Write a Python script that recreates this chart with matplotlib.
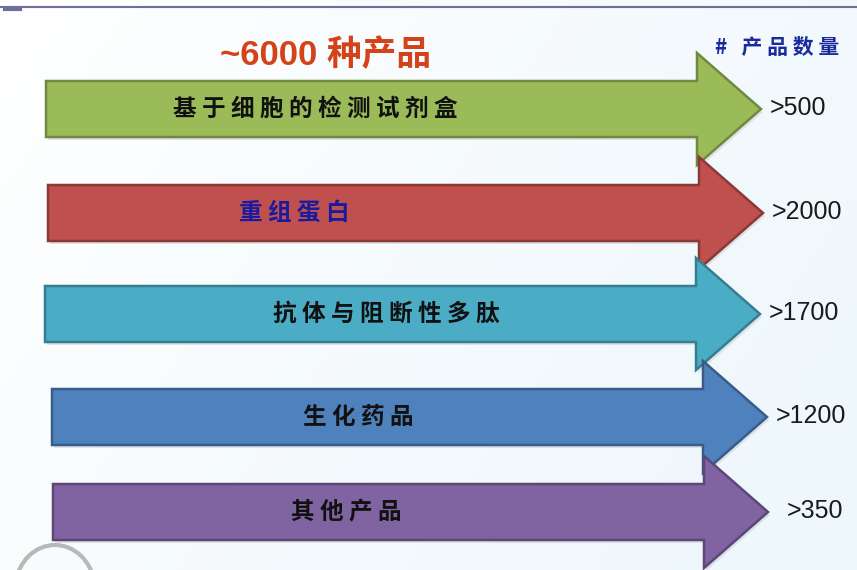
import numpy as np
import matplotlib
matplotlib.use("Agg")
import matplotlib.pyplot as plt
from matplotlib.patches import FancyArrow, Arc
from matplotlib.colors import LinearSegmentedColormap

plt.rcParams['font.family'] = ['Noto Sans CJK SC', 'DejaVu Sans']

# data
categories = ["基于细胞的检测试剂盒", "重组蛋白", "抗体与阻断性多肽", "生化药品", "其他产品"]
counts = [">500", ">2000", ">1700", ">1200", ">350"]
title = "~6000 种产品"
count_header = "# 产品数量"

# styles / layout
fills = ["#9BBB59", "#C0504D", "#4BACC6", "#4F81BD", "#8064A2"]
edges = ["#71893F", "#8C3836", "#357D91", "#385D8A", "#5C4776"]
label_colors = ["#111111", "#1A1AA0", "#111111", "#111111", "#111111"]
label_x = [315, 294, 386, 358, 346]
row_y = [109, 213, 314, 417, 512]
row_shift = [0, 2, -1, 6, 7]

W, H = 857, 570
fig = plt.figure(figsize=(W / 100, H / 100), dpi=100)
ax = fig.add_axes([0, 0, 1, 1])
ax.set_xlim(0, W)
ax.set_ylim(H, 0)
ax.axis("off")

# soft background gradient
gx, gy = np.meshgrid(np.linspace(0, 1, 200), np.linspace(0, 1, 200))
grad = np.clip(0.75 * gx + 0.35 * gy, 0, 1)
cmap = LinearSegmentedColormap.from_list("bg", ["#FFFFFF", "#EEF7FC"])
ax.imshow(grad, cmap=cmap, extent=(0, W, H, 0), aspect="auto", zorder=0)

# top rule
ax.plot([0, W], [7, 7], color="#6E6E9E", lw=1.5, zorder=1)
ax.plot([5, 20], [9, 9], color="#6E6E9E", lw=3, zorder=1)

# arrows
for i, cat in enumerate(categories):
    y = row_y[i]
    x0 = 46 + row_shift[i]
    length = 715
    shadow = FancyArrow(x0 + 2, y + 3, length, 0, width=56, head_width=112,
                        head_length=64, length_includes_head=True,
                        fc="#C8CCD2", ec="none", alpha=0.5, zorder=2 + i)
    ax.add_patch(shadow)
    arr = FancyArrow(x0, y, length, 0, width=56, head_width=112,
                     head_length=64, length_includes_head=True,
                     fc=fills[i], ec=edges[i], lw=1.8, zorder=2 + i)
    ax.add_patch(arr)
    ax.text(label_x[i], y, " ".join(cat), ha="center", va="center",
            fontsize=17, fontweight="bold", color=label_colors[i], zorder=10)
    ax.text(x0 + length + 9 + (10 if counts[i] == ">350" else 0), y - 1, counts[i],
            ha="left", va="center", fontsize=18,
            family=["Liberation Sans", "DejaVu Sans"], color="#1A1A1A", zorder=10)

# headings
ax.text(326, 55, title, ha="center", va="center", fontsize=25, fontweight="bold",
        family=["Liberation Sans", "Noto Sans CJK SC"], color="#D4421A", zorder=10)
ax.text(777, 47, " ".join(count_header), ha="center", va="center", fontsize=15,
        fontweight="bold", color="#1A2A9C", zorder=10)

# partial logo at bottom left
ax.add_patch(Arc((55, 590), 80, 90, theta1=190, theta2=350, color="#B8B8B8",
                 lw=3, zorder=3))

fig.savefig("out.png", dpi=100)
